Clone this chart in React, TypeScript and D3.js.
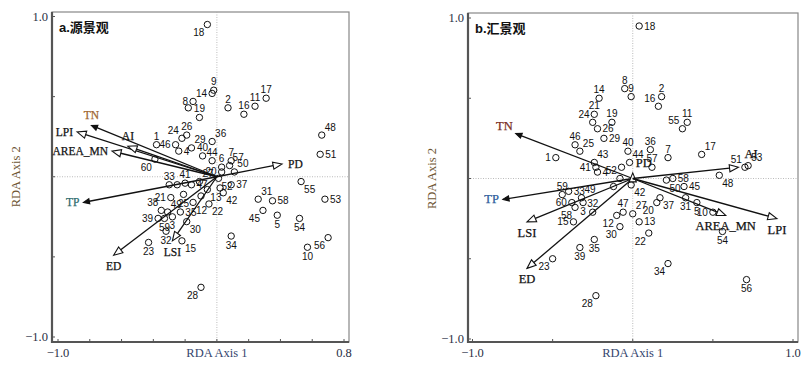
import React from 'react';
import * as d3 from 'd3';

// ---- a. 源景观 : site scores ----
const siteIdsA = [
  '18', '9', '14', '8', '', '19', '2', '16',
  '11', '17', '48', '51', '36', '29', '24', '26',
  '1', '46', '4', '40', '44', '6', '7', '57',
  '50', '20', '60', '52', '33', '', '41', '47',
  '27', '37', '21', '38', '49', '39', '59', '3',
  '35', '12', '22', '13', '', '42', '', '25',
  '30', '15', '32', '23', '28', '34', '31', '58',
  '45', '5', '55', '53', '54', '56', '10',
];
const rda1A = [
  -0.06, -0.02, -0.03, -0.15, -0.18, -0.11, 0.07, 0.17,
  0.24, 0.31, 0.66, 0.65, -0.03, -0.16, -0.22, -0.19,
  -0.38, -0.26, -0.24, -0.09, -0.03, 0.03, 0.09, 0.08,
  0.11, 0.03, -0.39, 0.01, -0.30, -0.25, -0.20, -0.16,
  -0.11, 0.09, -0.29, -0.35, -0.31, -0.37, -0.33, -0.28,
  -0.23, -0.15, -0.05, -0.06, -0.10, 0.04, 0.02, -0.21,
  -0.19, -0.22, -0.32, -0.43, -0.10, 0.09, 0.26, 0.35,
  0.29, 0.38, 0.53, 0.68, 0.52, 0.70, 0.57,
];
const rda2A = [
  0.95, 0.54, 0.52, 0.47, 0.43, 0.37, 0.43, 0.39,
  0.44, 0.49, 0.26, 0.14, 0.22, 0.18, 0.24, 0.26,
  0.20, 0.20, 0.16, 0.13, 0.10, 0.06, 0.10, 0.07,
  0.03, 0.03, 0.11, -0.01, -0.05, -0.05, -0.04, -0.05,
  -0.03, -0.05, -0.13, -0.21, -0.22, -0.26, -0.26, -0.25,
  -0.22, -0.16, -0.17, -0.08, -0.12, -0.10, -0.07, -0.11,
  -0.28, -0.40, -0.34, -0.41, -0.69, -0.37, -0.14, -0.15,
  -0.21, -0.24, -0.03, -0.14, -0.26, -0.38, -0.44,
];
const labelSideA = [
  'sw', 'n', 'w', 'w', '', 'n', 'n', 'n',
  'n', 'n', 'ne', 'e', 'ne', 'ne', 'nw', 'n',
  'n', 'w', 'e', 'n', 'n', 'n', 'n', 'ne',
  'ne', 'w', 'sw', 'se', 'n', '', 'n', 'e',
  'ne', 'e', 'w', 'nw', 'ne', 'w', 's', 's',
  'e', 'se', 'se', 'se', '', 'se', '', 's',
  'se', 'se', 's', 's', 'sw', 's', 'ne', 'e',
  'sw', 's', 'se', 'e', 's', 'sw', 's',
];

// ---- a. explanatory variables ----
const varNamesA = ['TN', 'LPI', 'AI', 'AREA_MN', 'PD', 'TP', 'ED', 'LSI'];
const varRda1A = [-0.79, -0.88, -0.56, -0.66, 0.41, -0.84, -0.65, -0.28];
const varRda2A = [0.32, 0.28, 0.19, 0.16, 0.08, -0.16, -0.49, -0.40];
const varSideA = ['n', 'w', 'n', 'w', 'e', 'w', 's', 's'];

// ---- b. 汇景观 : site scores ----
const siteIdsB = [
  '18', '8', '9', '2', '16', '55', '11', '36',
  '7', '17', '40', '44', '57', '51', '53', '48',
  '58', '50', '45', '31', '5', '10', '37', '20',
  '42', '47', '27', '13', '12', '30', '22', '34',
  '56', '54', '14', '21', '24', '26', '19', '29',
  '46', '25', '1', '43', '41', '4', '52', '',
  '', '59', '33', '49', '60', '58', '32', '3',
  '15', '35', '39', '23', '28',
];
const rda1B = [
  0.04, -0.05, -0.01, 0.18, 0.16, 0.31, 0.34, 0.11,
  0.22, 0.43, -0.03, -0.02, 0.12, 0.70, 0.72, 0.54,
  0.25, 0.21, 0.32, 0.33, 0.40, 0.50, 0.17, 0.15,
  -0.01, -0.06, 0.00, 0.04, -0.10, -0.08, 0.10, 0.22,
  0.71, 0.56, -0.21, -0.24, -0.25, -0.22, -0.13, -0.18,
  -0.36, -0.33, -0.48, -0.24, -0.23, -0.22, -0.08, -0.12,
  -0.07, -0.44, -0.40, -0.32, -0.38, -0.36, -0.25, -0.31,
  -0.37, -0.24, -0.33, -0.50, -0.23,
];
const rda2B = [
  0.95, 0.56, 0.51, 0.51, 0.45, 0.31, 0.35, 0.18,
  0.13, 0.15, 0.17, 0.10, 0.07, 0.07, 0.08, 0.02,
  0.00, -0.01, -0.05, -0.12, -0.15, -0.21, -0.12, -0.15,
  -0.04, -0.21, -0.22, -0.27, -0.23, -0.30, -0.34, -0.53,
  -0.63, -0.33, 0.50, 0.40, 0.35, 0.31, 0.35, 0.25,
  0.21, 0.17, 0.13, 0.10, 0.07, 0.04, 0.00, -0.05,
  0.07, -0.10, -0.08, -0.12, -0.15, -0.18, -0.21, -0.15,
  -0.27, -0.38, -0.43, -0.50, -0.73,
];
const labelSideB = [
  'e', 'n', 'n', 'n', 'nw', 'nw', 'n', 'n',
  'n', 'ne', 'n', 'ne', 'n', 'nw', 'ne', 'se',
  'e', 'se', 'e', 's', 's', 'w', 'se', 'sw',
  'se', 'n', 'ne', 'e', 'sw', 'sw', 'sw', 'sw',
  's', 's', 'n', 'n', 'nw', 'e', 'n', 'e',
  'n', 'ne', 'w', 'ne', 'w', 'e', 'nw', '',
  '', 'n', 'e', 'ne', 'w', 'sw', 'n', 's',
  'w', 's', 's', 'sw', 'sw',
];

// ---- b. explanatory variables ----
const varNamesB = ['TN', 'TP', 'LSI', 'ED', 'PD', 'AI', 'AREA_MN', 'LPI'];
const varRda1B = [-0.73, -0.81, -0.66, -0.66, 0.0, 0.66, 0.58, 0.9];
const varRda2B = [0.28, -0.13, -0.27, -0.56, 0.035, 0.07, -0.23, -0.25];
const varSideB = ['nw', 'w', 's', 's', 'ne', 'nne', 's', 's'];

const yTickLabels = [-1.0, 1.0];
const xTickLabelsA = [-1.0, 0.8];
const xTickLabelsB = [-1.0, 1.0];

// soil nutrients get a small solid head, landscape metrics an open one
const solidHead = ['TN', 'TP'];

const SERIF = "'Liberation Serif', 'Times New Roman', serif";
const SANS = "'Liberation Sans', Arial, sans-serif";

const siteOffset = (s: string) => {
  switch (s) {
    case 'n': return { dx: 0, dy: -8.5, a: 'middle' };
    case 's': return { dx: 0, dy: 9, a: 'middle' };
    case 'e': return { dx: 5, dy: 0, a: 'start' };
    case 'w': return { dx: -5, dy: 0, a: 'end' };
    case 'ne': return { dx: 3, dy: -8, a: 'start' };
    case 'nw': return { dx: -3, dy: -8, a: 'end' };
    case 'se': return { dx: 3, dy: 8, a: 'start' };
    default: return { dx: -3, dy: 8, a: 'end' };
  }
};

const varOffset = (s: string) => {
  switch (s) {
    case 'n': return { dx: 0, dy: -10, a: 'middle' };
    case 's': return { dx: 0, dy: 11, a: 'middle' };
    case 'e': return { dx: 6, dy: 0, a: 'start' };
    case 'w': return { dx: -4, dy: 0, a: 'end' };
    case 'ne': return { dx: 3, dy: -10, a: 'start' };
    case 'nne': return { dx: 6, dy: -13, a: 'start' };
    default: return { dx: -3, dy: -8, a: 'end' };
  }
};

type PanelProps = {
  title: string;
  ids: string[]; xs: number[]; ys: number[]; sides: string[];
  vNames: string[]; vxs: number[]; vys: number[]; vSides: string[];
  colors: Record<string, string>;
  xDomain: number[]; xRange: number[]; yRange: number[];
  frame: { x0: number; x1: number; y0: number; y1: number };
  xStep: number; xTickLabels: number[]; varSize: number;
};

function Panel(p: PanelProps) {
  const x = d3.scaleLinear().domain(p.xDomain).range(p.xRange);
  const y = d3.scaleLinear().domain([-1, 1]).range(p.yRange);
  const xTicks = d3.range(p.xDomain[0], p.xDomain[1] + 1e-6, p.xStep);
  const yTicks = d3.range(-1, 1 + 1e-6, 0.5);
  const f = p.frame;
  const ox = x(0), oy = y(0);
  const fmt = (v: number) => d3.format('.1f')(v).replace('-', '−');

  return (
    <g>
      <rect x={f.x0} y={f.y0} width={f.x1 - f.x0} height={f.y1 - f.y0} fill="#fff" stroke="#888" strokeWidth={1.2} />
      <line x1={f.x0} x2={f.x0} y1={f.y0} y2={f.y1 + 1} stroke="#555" strokeWidth={2.2} />
      <line x1={f.x0} x2={f.x1} y1={f.y1} y2={f.y1} stroke="#555" strokeWidth={2.2} />
      {/* zero lines */}
      <line x1={ox} x2={ox} y1={f.y0} y2={f.y1} stroke="#aaa" strokeWidth={0.8} strokeDasharray="1,1.5" />
      <line x1={f.x0} x2={f.x1} y1={oy} y2={oy} stroke="#aaa" strokeWidth={0.8} strokeDasharray="1,1.5" />
      {xTicks.map((t, i) => (
        <line key={'xt' + i} x1={x(t)} x2={x(t)} y1={f.y1} y2={f.y1 - 3} stroke="#555" strokeWidth={1} />
      ))}
      {yTicks.map((t, i) => (
        <line key={'yt' + i} x1={f.x0} x2={f.x0 + 3} y1={y(t)} y2={y(t)} stroke="#555" strokeWidth={1} />
      ))}
      {yTickLabels.map((t, i) => (
        <text key={'yl' + i} x={f.x0 - 4} y={y(t)} textAnchor="end" dominantBaseline="central"
          fontFamily={SERIF} fontSize={12.5} fill="#2a2f45">{fmt(t)}</text>
      ))}
      {p.xTickLabels.map((t, i) => (
        <text key={'xl' + i} x={x(t)} y={f.y1 + 11} textAnchor="middle" dominantBaseline="central"
          fontFamily={SERIF} fontSize={12.5} fill="#2a2f45">{fmt(t)}</text>
      ))}
      <text x={ox} y={f.y1 + 11} textAnchor="middle" dominantBaseline="central"
        fontFamily={SERIF} fontSize={12.5} fill="#34456e">RDA Axis 1</text>
      <text transform={`translate(${f.x0 - 36},${oy}) rotate(-90)`} textAnchor="middle" dominantBaseline="central"
        fontFamily={SERIF} fontSize={12.5} fill="#6e5532">RDA Axis 2</text>
      <text x={f.x0 + 7} y={f.y0 + 15} dominantBaseline="central" fontFamily={`${SANS}, 'Noto Sans CJK SC'`}
        fontSize={13} fontWeight="bold" fill="#111">{p.title}</text>

      {/* sites */}
      {p.ids.map((id, i) => {
        const cx = x(p.xs[i]), cy = y(p.ys[i]);
        const o = siteOffset(p.sides[i]);
        return (
          <g key={'s' + i}>
            <circle cx={cx} cy={cy} r={3.2} fill="none" stroke="#111" strokeWidth={1} />
            {id && (
              <text x={cx + o.dx} y={cy + o.dy} textAnchor={o.a} dominantBaseline="central"
                fontFamily={SANS} fontSize={10} fill="#111">{id}</text>
            )}
          </g>
        );
      })}

      {/* variable arrows */}
      {p.vNames.map((name, i) => {
        const tx = x(p.vxs[i]), ty = y(p.vys[i]);
        const ang = Math.atan2(ty - oy, tx - ox);
        const solid = solidHead.includes(name);
        const L = solid ? 6 : 9, W = solid ? 2.6 : 3.6;
        const c = Math.cos(ang), s = Math.sin(ang);
        const bx = tx - L * c, by = ty - L * s;
        const len = Math.hypot(tx - ox, ty - oy);
        const pts = [[tx, ty], [bx + W * s, by - W * c], [bx - W * s, by + W * c]]
          .map((q) => q.join(',')).join(' ');
        const o = varOffset(p.vSides[i]);
        const col = p.colors[name] || '#111';
        return (
          <g key={'v' + i}>
            {len > L && (
              <line x1={ox} y1={oy} x2={solid ? tx - 2 * c : bx} y2={solid ? ty - 2 * s : by}
                stroke="#111" strokeWidth={1.3} />
            )}
            <polygon points={pts} fill={solid ? '#111' : '#fff'} stroke="#111" strokeWidth={1.1} />
            <text x={tx + o.dx} y={ty + o.dy} textAnchor={o.a} dominantBaseline="central"
              fontFamily={SERIF} fontSize={p.varSize} fill={col} stroke={col} strokeWidth={0.25}>{name}</text>
          </g>
        );
      })}
    </g>
  );
}

export default function App() {
  return (
    <svg width={807} height={367} style={{ position: 'absolute', left: 0, top: 0, background: '#fff' }}>
      <Panel
        title="a.源景观"
        ids={siteIdsA} xs={rda1A} ys={rda2A} sides={labelSideA}
        vNames={varNamesA} vxs={varRda1A} vys={varRda2A} vSides={varSideA}
        colors={{ TN: '#a0652e', TP: '#2d6b6e' }}
        xDomain={[-1, 0.8]} xRange={[58, 344]} yRange={[337, 16.5]}
        frame={{ x0: 52, x1: 349, y0: 12, y1: 342 }}
        xStep={0.2} xTickLabels={xTickLabelsA} varSize={11.5}
      />
      <Panel
        title="b.汇景观"
        ids={siteIdsB} xs={rda1B} ys={rda2B} sides={labelSideB}
        vNames={varNamesB} vxs={varRda1B} vys={varRda2B} vSides={varSideB}
        colors={{ TN: '#7a2e1e', TP: '#2e5c9c' }}
        xDomain={[-1, 1]} xRange={[472.5, 793]} yRange={[339, 18]}
        frame={{ x0: 468, x1: 798, y0: 13, y1: 342 }}
        xStep={0.5} xTickLabels={xTickLabelsB} varSize={12.5}
      />
    </svg>
  );
}
